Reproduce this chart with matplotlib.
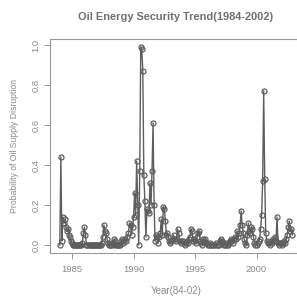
import numpy as np
import matplotlib
matplotlib.use('Agg')
import matplotlib.pyplot as plt

# monthly probability of oil supply disruption, Jan 1984 .. Dec 2002
p1984 = [0.0, 0.44, 0.02, 0.14, 0.11, 0.13, 0.09, 0.07, 0.08, 0.05, 0.04, 0.02]
p1985 = [0.01, 0.0, 0.0, 0.0, 0.0, 0.0, 0.0, 0.0, 0.0, 0.0, 0.01, 0.06]
p1986 = [0.09, 0.05, 0.0, 0.0, 0.0, 0.0, 0.0, 0.0, 0.0, 0.0, 0.0, 0.0]
p1987 = [0.0, 0.0, 0.0, 0.0, 0.0, 0.01, 0.04, 0.10, 0.07, 0.06, 0.03, 0.01]
p1988 = [0.0, 0.0, 0.0, 0.01, 0.0, 0.03, 0.02, 0.0, 0.0, 0.0, 0.0, 0.0]
p1989 = [0.02, 0.03, 0.01, 0.02, 0.03, 0.02, 0.04, 0.06, 0.11, 0.10, 0.05, 0.09]
p1990 = [0.14, 0.26, 0.15, 0.42, 0.20, 0.0, 0.37, 0.99, 0.98, 0.87, 0.35, 0.22]
p1991 = [0.04, 0.18, 0.17, 0.16, 0.31, 0.20, 0.37, 0.61, 0.20, 0.02, 0.05, 0.04]
p1992 = [0.01, 0.04, 0.06, 0.13, 0.05, 0.19, 0.18, 0.12, 0.05, 0.06, 0.04, 0.02]
p1993 = [0.01, 0.02, 0.03, 0.05, 0.03, 0.02, 0.03, 0.08, 0.06, 0.02, 0.01, 0.02]
p1994 = [0.02, 0.01, 0.0, 0.01, 0.02, 0.01, 0.03, 0.04, 0.08, 0.07, 0.02, 0.03]
p1995 = [0.02, 0.01, 0.04, 0.06, 0.07, 0.02, 0.01, 0.0, 0.03, 0.02, 0.03, 0.01]
p1996 = [0.01, 0.0, 0.0, 0.01, 0.0, 0.0, 0.0, 0.0, 0.01, 0.0, 0.0, 0.0]
p1997 = [0.02, 0.03, 0.02, 0.01, 0.0, 0.0, 0.01, 0.0, 0.0, 0.01, 0.02, 0.03]
p1998 = [0.02, 0.01, 0.03, 0.04, 0.03, 0.07, 0.04, 0.06, 0.10, 0.17, 0.10, 0.06]
p1999 = [0.03, 0.01, 0.0, 0.05, 0.11, 0.07, 0.06, 0.09, 0.08, 0.04, 0.01, 0.0]
p2000 = [0.0, 0.01, 0.02, 0.03, 0.08, 0.15, 0.32, 0.77, 0.33, 0.06, 0.02, 0.01]
p2001 = [0.01, 0.0, 0.02, 0.01, 0.03, 0.02, 0.04, 0.02, 0.14, 0.01, 0.0, 0.01]
p2002 = [0.01, 0.0, 0.01, 0.02, 0.01, 0.03, 0.05, 0.09, 0.12, 0.07, 0.08, 0.05]

prob = np.array(p1984 + p1985 + p1986 + p1987 + p1988 + p1989 + p1990 + p1991 +
                p1992 + p1993 + p1994 + p1995 + p1996 + p1997 + p1998 + p1999 +
                p2000 + p2001 + p2002)
year = 1984 + np.arange(len(prob)) / 12.0

xticks = [1985, 1990, 1995, 2000]
yticks = [0.0, 0.2, 0.4, 0.6, 0.8, 1.0]

plt.rcParams['font.family'] = ['Liberation Sans', 'DejaVu Sans']
c_txt, c_ax, c_dat = '#8a8a8a', '#9a9a9a', '#5e5e5e'

fig = plt.figure(figsize=(2.97, 2.97), dpi=100)
W = 297.
ax = fig.add_axes([50/W, 44/W, 252/W, 214/W])

ax.plot(year, prob, '-', lw=1.0, c=c_dat)
ax.plot(year, prob, 'o', ms=3.6, mfc='none', mec=c_dat, mew=0.9)

ax.set_xlim([1983.2, 2003.7])
ax.set_ylim([-0.04, 1.03])
ax.set_xticks(xticks)
ax.set_xticklabels(['%i' % t for t in xticks])
ax.set_yticks(yticks)
ax.set_yticklabels(['%.1f' % t for t in yticks], rotation=90, va='center')

for s in ax.spines.values():
    s.set_color(c_ax)
    s.set_linewidth(0.8)
ax.tick_params(colors=c_ax, labelcolor=c_txt, labelsize=6.8, length=4, width=0.7, pad=5)
ax.tick_params(axis='y', pad=3)

ax.set_xlabel('Year(84-02)', fontsize=7, color=c_txt, labelpad=8)
ax.set_ylabel('Probability of Oil Supply Disruption', fontsize=6.2, color=c_txt, labelpad=9)
fig.text(176/W, 1 - 17/W, 'Oil Energy Security Trend(1984-2002)', ha='center', va='center',
         fontsize=7.9, fontweight='bold', color='#707070')

plt.savefig('out.png', dpi=100)
